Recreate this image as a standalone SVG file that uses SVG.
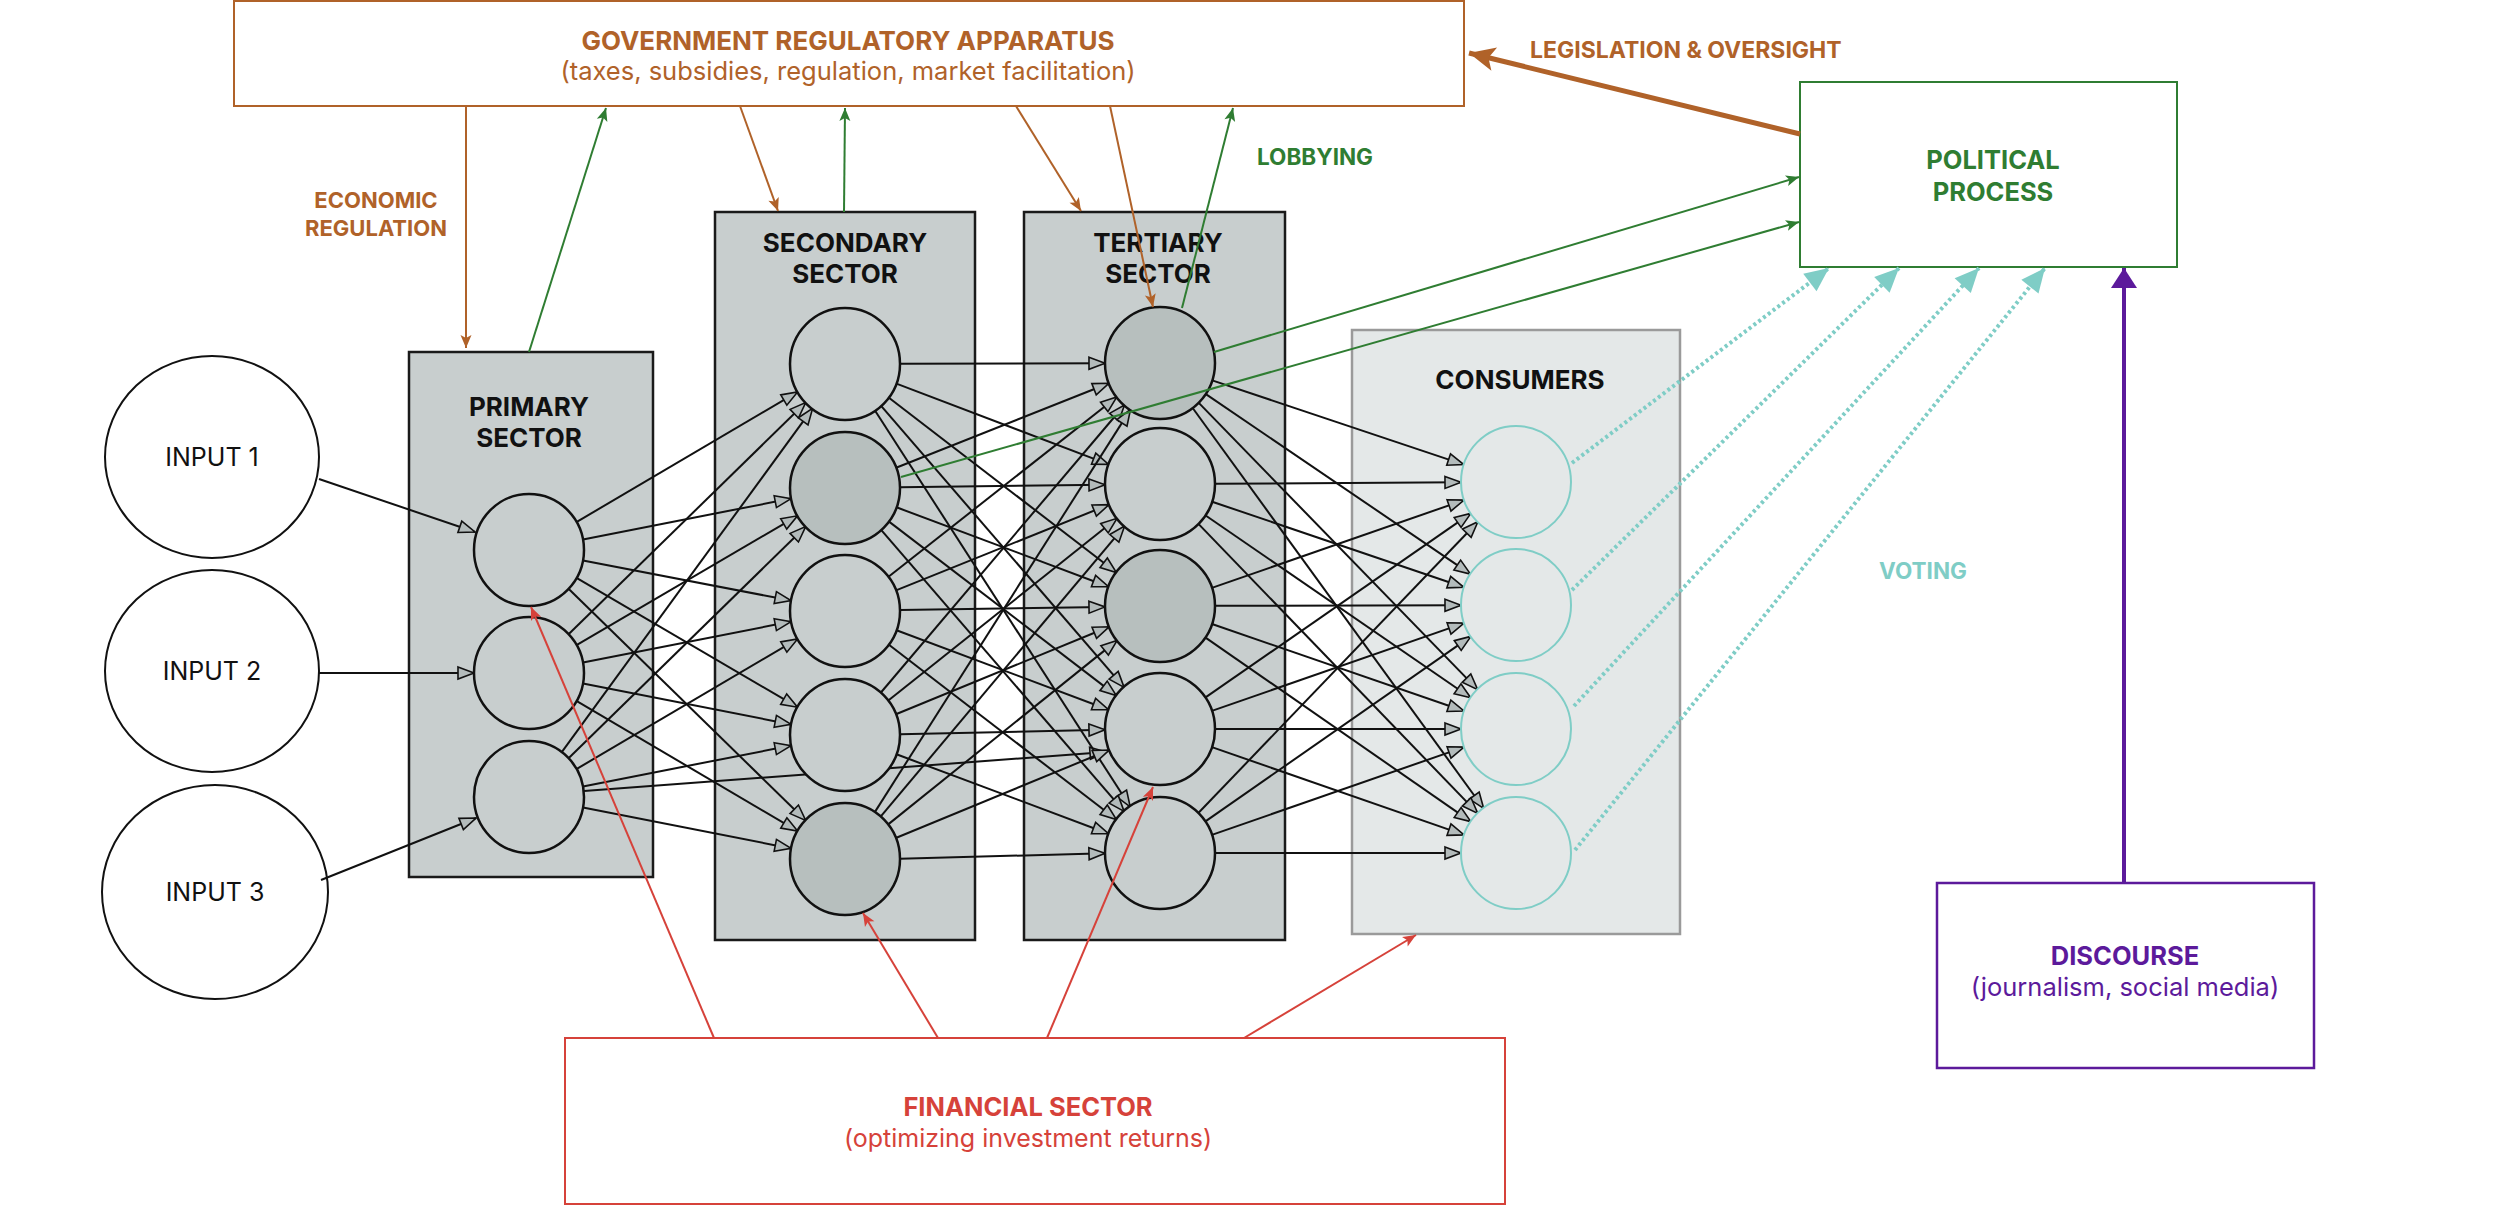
<svg xmlns="http://www.w3.org/2000/svg" width="2500" height="1206" viewBox="0 0 2500 1206">
<style>
text{font-family:Inter,"Noto Sans","Liberation Sans",sans-serif;text-anchor:middle}
.b{font-weight:700}
.sector{fill:#C8CECE;stroke:#1a1a1a;stroke-width:2.5}
.nd{fill:#C8CECE;stroke:#111;stroke-width:2.5}
.dk{fill:#B7BFBE}
.cn{fill:#E4E8E8;stroke:#7FCDC6;stroke-width:2}
.e{stroke:#111;stroke-width:2;fill:none;marker-end:url(#mk)}
.br{stroke:#B06229;stroke-width:2;fill:none;marker-end:url(#mbr)}
.gr{stroke:#2F7D32;stroke-width:2;fill:none;marker-end:url(#mgr)}
.rd{stroke:#D6423A;stroke-width:2;fill:none;marker-end:url(#mrd)}
.vt{stroke:#7FCDC6;stroke-width:4;fill:none;stroke-dasharray:3 3;marker-end:url(#mvt)}
</style>
<defs>
<marker id="mk" markerUnits="userSpaceOnUse" markerWidth="20" markerHeight="16" refX="17" refY="7" orient="auto" overflow="visible"><path d="M1,1 L17,7 L1,13 z" fill="#B3BBBB" stroke="#111" stroke-width="1.6"/></marker>
<marker id="mbr" markerUnits="userSpaceOnUse" markerWidth="14" markerHeight="12" refX="13" refY="5.5" orient="auto" overflow="visible"><path d="M0,0 L13,5.5 L0,11 L3,5.5 z" fill="#B06229"/></marker>
<marker id="mgr" markerUnits="userSpaceOnUse" markerWidth="14" markerHeight="12" refX="13" refY="5.5" orient="auto" overflow="visible"><path d="M0,0 L13,5.5 L0,11 L3,5.5 z" fill="#2F7D32"/></marker>
<marker id="mrd" markerUnits="userSpaceOnUse" markerWidth="14" markerHeight="12" refX="13" refY="5.5" orient="auto" overflow="visible"><path d="M0,0 L13,5.5 L0,11 L3,5.5 z" fill="#D6423A"/></marker>
<marker id="mleg" markerUnits="userSpaceOnUse" markerWidth="28" markerHeight="24" refX="26" refY="12" orient="auto" overflow="visible"><path d="M0,0 L26,12 L0,24 L6,12 z" fill="#B06229"/></marker>
<marker id="mvt" markerUnits="userSpaceOnUse" markerWidth="26" markerHeight="24" refX="24" refY="11" orient="auto" overflow="visible"><path d="M0,0 L24,11 L0,22 z" fill="#7FCDC6"/></marker>
<marker id="mpu" markerUnits="userSpaceOnUse" markerWidth="28" markerHeight="28" refX="20" refY="13" orient="auto" overflow="visible"><path d="M0,0 L20,13 L0,26 z" fill="#5C1A9B"/></marker>
</defs>
<rect width="2500" height="1206" fill="#fff"/>

<g id="government">
<rect x="234" y="1" width="1230" height="105" fill="#fff" stroke="#B06229" stroke-width="2"/>
<text x="848" y="50" class="b" font-size="26" fill="#B06229">GOVERNMENT REGULATORY APPARATUS</text>
<text x="848" y="80" font-size="25.5" fill="#B06229">(taxes, subsidies, regulation, market facilitation)</text>
</g>
<g id="political">
<rect x="1800" y="82" width="377" height="185" fill="#fff" stroke="#2F7D32" stroke-width="2"/>
<text x="1993" y="169" class="b" font-size="25.5" fill="#2F7D32">POLITICAL</text>
<text x="1993" y="201" class="b" font-size="25.5" fill="#2F7D32">PROCESS</text>
</g>
<g id="discourse">
<rect x="1937" y="883" width="377" height="185" fill="#fff" stroke="#5C1A9B" stroke-width="2.5"/>
<text x="2125" y="965" class="b" font-size="25.5" fill="#5C1A9B">DISCOURSE</text>
<text x="2125" y="996" font-size="25.5" fill="#5C1A9B">(journalism, social media)</text>
</g>
<g id="financial">
<rect x="565" y="1038" width="940" height="166" fill="#fff" stroke="#D6423A" stroke-width="2"/>
<text x="1028" y="1116" class="b" font-size="25.5" fill="#D6423A">FINANCIAL SECTOR</text>
<text x="1028" y="1147" font-size="25" fill="#D6423A">(optimizing investment returns)</text>
</g>

<g id="inputs">
<g id="input1"><ellipse cx="212" cy="457" rx="107" ry="101" fill="#fff" stroke="#111" stroke-width="2"/><text x="212" y="466" font-size="25" fill="#111">INPUT 1</text></g>
<g id="input2"><ellipse cx="212" cy="671" rx="107" ry="101" fill="#fff" stroke="#111" stroke-width="2"/><text x="212" y="680" font-size="25" fill="#111">INPUT 2</text></g>
<g id="input3"><ellipse cx="215" cy="892" rx="113" ry="107" fill="#fff" stroke="#111" stroke-width="2"/><text x="215" y="901" font-size="25" fill="#111">INPUT 3</text></g>
</g>

<g id="primary-sector"><rect class="sector" x="409" y="352" width="244" height="525"/>
<text x="529" y="416" class="b" font-size="26" fill="#111">PRIMARY</text>
<text x="529" y="447" class="b" font-size="26" fill="#111">SECTOR</text></g>
<g id="secondary-sector"><rect class="sector" x="715" y="212" width="260" height="728"/>
<text x="845" y="252" class="b" font-size="26" fill="#111">SECONDARY</text>
<text x="845" y="283" class="b" font-size="26" fill="#111">SECTOR</text></g>
<g id="tertiary-sector"><rect class="sector" x="1024" y="212" width="261" height="728"/>
<text x="1158" y="252" class="b" font-size="26" fill="#111">TERTIARY</text>
<text x="1158" y="283" class="b" font-size="26" fill="#111">SECTOR</text></g>
<g id="consumers"><rect x="1352" y="330" width="328" height="604" fill="#E4E8E8" stroke="#9A9A9A" stroke-width="2.5"/>
<text x="1520" y="389" class="b" font-size="26" fill="#111">CONSUMERS</text></g>

<g id="network-edges">
<line class="e" x1="319" y1="479" x2="475" y2="532"/>
<line class="e" x1="319" y1="673" x2="474" y2="673"/>
<line class="e" x1="321" y1="880" x2="476" y2="818"/>

<line class="e" x1="576.4" y1="522.1" x2="797.6" y2="391.9"/>
<line class="e" x1="583" y1="539.4" x2="791" y2="498.6"/>
<line class="e" x1="583" y1="560.4" x2="791" y2="600.6"/>
<line class="e" x1="576.5" y1="577.8" x2="797.5" y2="707.2"/>
<line class="e" x1="568.3" y1="588.5" x2="805.7" y2="820.5"/>
<line class="e" x1="568.3" y1="634.5" x2="805.7" y2="402.5"/>
<line class="e" x1="576.5" y1="645.2" x2="797.5" y2="515.8"/>
<line class="e" x1="583" y1="662.4" x2="791" y2="621.6"/>
<line class="e" x1="583" y1="683.6" x2="791" y2="724.4"/>
<line class="e" x1="576.4" y1="700.9" x2="797.6" y2="831.1"/>
<line class="e" x1="561.4" y1="752.6" x2="812.6" y2="408.4"/>
<line class="e" x1="568.3" y1="758.5" x2="805.7" y2="526.5"/>
<line class="e" x1="576.4" y1="769.1" x2="797.6" y2="638.9"/>
<line class="e" x1="583" y1="786.4" x2="791" y2="745.6"/>
<line class="e" x1="583" y1="807.6" x2="791" y2="848.4"/>
<line class="e" x1="584" y1="791" x2="1106" y2="752"/>

<line class="e" x1="900" y1="363.8" x2="1105" y2="363.2"/>
<line class="e" x1="896.4" y1="383.6" x2="1108.6" y2="464.4"/>
<line class="e" x1="888.6" y1="397.5" x2="1116.4" y2="572.5"/>
<line class="e" x1="880.9" y1="405.6" x2="1124.1" y2="687.4"/>
<line class="e" x1="874.8" y1="410.2" x2="1130.2" y2="806.8"/>
<line class="e" x1="896.1" y1="467.7" x2="1108.9" y2="383.3"/>
<line class="e" x1="900" y1="487.3" x2="1105" y2="484.7"/>
<line class="e" x1="896.5" y1="507.3" x2="1108.5" y2="586.7"/>
<line class="e" x1="888.7" y1="521.4" x2="1116.3" y2="695.6"/>
<line class="e" x1="880.9" y1="529.6" x2="1124.1" y2="811.4"/>
<line class="e" x1="888.2" y1="577" x2="1116.8" y2="397"/>
<line class="e" x1="896" y1="590.4" x2="1109" y2="504.6"/>
<line class="e" x1="900" y1="610.1" x2="1105" y2="606.9"/>
<line class="e" x1="896.5" y1="630.3" x2="1108.5" y2="709.7"/>
<line class="e" x1="888.6" y1="644.5" x2="1116.4" y2="819.5"/>
<line class="e" x1="880.5" y1="693" x2="1124.5" y2="405"/>
<line class="e" x1="888" y1="700.7" x2="1117" y2="518.3"/>
<line class="e" x1="895.9" y1="714.2" x2="1109.1" y2="626.8"/>
<line class="e" x1="900" y1="734.3" x2="1105" y2="729.7"/>
<line class="e" x1="896.5" y1="754.3" x2="1108.5" y2="833.7"/>
<line class="e" x1="874.5" y1="812.6" x2="1130.5" y2="409.4"/>
<line class="e" x1="880.4" y1="816.9" x2="1124.6" y2="526.1"/>
<line class="e" x1="887.9" y1="824.6" x2="1117.1" y2="640.4"/>
<line class="e" x1="895.8" y1="838" x2="1109.2" y2="750"/>
<line class="e" x1="900" y1="858.7" x2="1105" y2="853.3"/>

<line class="e" x1="1212.2" y1="380.4" x2="1463.8" y2="464.6"/>
<line class="e" x1="1205.5" y1="393.9" x2="1470.5" y2="574.1"/>
<line class="e" x1="1198.3" y1="402.4" x2="1477.7" y2="689.6"/>
<line class="e" x1="1192.3" y1="407.5" x2="1483.7" y2="808.5"/>
<line class="e" x1="1215" y1="483.7" x2="1461" y2="482.3"/>
<line class="e" x1="1212.1" y1="501.7" x2="1463.9" y2="587.3"/>
<line class="e" x1="1205.3" y1="515.2" x2="1470.7" y2="697.8"/>
<line class="e" x1="1198.2" y1="523.6" x2="1477.8" y2="813.4"/>
<line class="e" x1="1211.9" y1="587.9" x2="1464.1" y2="500.1"/>
<line class="e" x1="1215" y1="605.8" x2="1461" y2="605.2"/>
<line class="e" x1="1212" y1="624" x2="1464" y2="711"/>
<line class="e" x1="1205.2" y1="637.4" x2="1470.8" y2="821.6"/>
<line class="e" x1="1205.2" y1="697.6" x2="1470.8" y2="513.4"/>
<line class="e" x1="1211.9" y1="710.9" x2="1464.1" y2="623.1"/>
<line class="e" x1="1215" y1="729" x2="1461" y2="729"/>
<line class="e" x1="1211.9" y1="747.1" x2="1464.1" y2="834.9"/>
<line class="e" x1="1198.1" y1="813.3" x2="1477.9" y2="521.7"/>
<line class="e" x1="1205.1" y1="821.6" x2="1470.9" y2="636.4"/>
<line class="e" x1="1211.9" y1="834.9" x2="1464.1" y2="747.1"/>
<line class="e" x1="1215" y1="853" x2="1461" y2="853"/>
</g>

<g id="primary-nodes">
<ellipse id="p1" class="nd" cx="529" cy="550" rx="55" ry="56"/>
<ellipse id="p2" class="nd" cx="529" cy="673" rx="55" ry="56"/>
<ellipse id="p3" class="nd" cx="529" cy="797" rx="55" ry="56"/>
</g>
<g id="secondary-nodes">
<ellipse id="s1" class="nd" cx="845" cy="364" rx="55" ry="56"/>
<ellipse id="s2" class="nd dk" cx="845" cy="488" rx="55" ry="56"/>
<ellipse id="s3" class="nd" cx="845" cy="611" rx="55" ry="56"/>
<ellipse id="s4" class="nd" cx="845" cy="735" rx="55" ry="56"/>
<ellipse id="s5" class="nd dk" cx="845" cy="859" rx="55" ry="56"/>
</g>
<g id="tertiary-nodes">
<ellipse id="t1" class="nd dk" cx="1160" cy="363" rx="55" ry="56"/>
<ellipse id="t2" class="nd" cx="1160" cy="484" rx="55" ry="56"/>
<ellipse id="t3" class="nd dk" cx="1160" cy="606" rx="55" ry="56"/>
<ellipse id="t4" class="nd" cx="1160" cy="729" rx="55" ry="56"/>
<ellipse id="t5" class="nd" cx="1160" cy="853" rx="55" ry="56"/>
</g>
<g id="consumer-nodes">
<ellipse id="c1" class="cn" cx="1516" cy="482" rx="55" ry="56"/>
<ellipse id="c2" class="cn" cx="1516" cy="605" rx="55" ry="56"/>
<ellipse id="c3" class="cn" cx="1516" cy="729" rx="55" ry="56"/>
<ellipse id="c4" class="cn" cx="1516" cy="853" rx="55" ry="56"/>
</g>

<g id="connectors">
<line class="br" x1="466" y1="106" x2="466" y2="348"/>
<line class="br" x1="740" y1="106" x2="778" y2="211"/>
<line class="br" x1="1016" y1="106" x2="1081" y2="211"/>
<line class="br" x1="1110" y1="106" x2="1153" y2="307"/>
<line class="gr" x1="529" y1="352" x2="606" y2="108"/>
<line class="gr" x1="844" y1="212" x2="845" y2="108"/>
<line class="gr" x1="1182" y1="308" x2="1233" y2="108"/>
<line class="gr" x1="1214" y1="352" x2="1799" y2="177"/>
<line class="gr" x1="901" y1="477" x2="1799" y2="222"/>
<line stroke="#B06229" stroke-width="5" x1="1800" y1="134" x2="1469" y2="53" marker-end="url(#mleg)"/>
<line class="rd" x1="714" y1="1038" x2="531" y2="607"/>
<line class="rd" x1="938" y1="1038" x2="863" y2="913"/>
<line class="rd" x1="1047" y1="1038" x2="1153" y2="787"/>
<line class="rd" x1="1244" y1="1038" x2="1416" y2="935"/>
<line class="vt" x1="1572" y1="463" x2="1829" y2="268"/>
<line class="vt" x1="1572" y1="590" x2="1899" y2="268"/>
<line class="vt" x1="1574" y1="706" x2="1979" y2="268"/>
<line class="vt" x1="1575" y1="850" x2="2045" y2="268"/>
<line stroke="#5C1A9B" stroke-width="4" x1="2124" y1="883" x2="2124" y2="268" marker-end="url(#mpu)"/>
</g>

<g id="labels">
<text x="1530" y="58" class="b" font-size="23" fill="#B06229" style="text-anchor:start">LEGISLATION &amp; OVERSIGHT</text>
<text x="1257" y="165" class="b" font-size="22.5" fill="#2F7D32" style="text-anchor:start">LOBBYING</text>
<text x="376" y="208" class="b" font-size="22" fill="#B06229">ECONOMIC</text>
<text x="376" y="236" class="b" font-size="22" fill="#B06229">REGULATION</text>
<text x="1923" y="579" class="b" font-size="22.5" fill="#7FCDC6">VOTING</text>
</g>
</svg>
